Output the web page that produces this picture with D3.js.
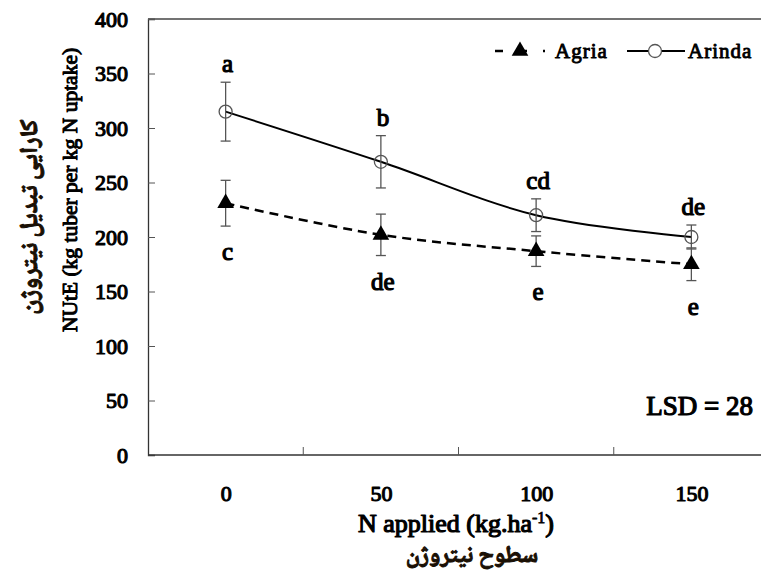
<!DOCTYPE html>
<html><head><meta charset="utf-8">
<script src="https://cdn.jsdelivr.net/npm/d3@7"></script>
<style>
html,body{margin:0;padding:0;background:#fff;}
</style></head>
<body>
<svg id="c" width="761" height="577"></svg>
<script>
const categories = ["0","50","100","150"];
const agria = [231, 202, 187, 175];
const agriaErr = [21, 19, 14, 15];
const arinda = [315, 269, 220, 200];
const arindaErr = [27, 24, 15, 11];
const agriaLetters = ["c","de","e","e"];
const arindaLetters = ["a","b","cd","de"];
const yTicks = [0,50,100,150,200,250,300,350,400];
const seriesNames = ["Agria","Arinda"];

const SERIF = "'Liberation Serif', 'Times New Roman', serif";
const FA = "'Noto Naskh Arabic', 'DejaVu Sans', sans-serif";

const svg = d3.select("#c");
const L = 148, R = 769, T = 19, B = 455;
const x = d3.scalePoint().domain(categories).range([L, R]).padding(0.5);
const y = d3.scaleLinear().domain([0, 400]).range([B, T]);

// faux-bold serif (no bold serif face is installed)
function st(sel, size, sw) {
  return sel.style("font-family", SERIF).style("font-weight", "normal").style("font-size", size + "px")
    .style("fill", "#000").style("stroke", "#000").style("stroke-width", (sw || 1) + "px")
    .style("stroke-linejoin", "round");
}
function fa(sel, size) {
  return sel.style("font-family", FA).style("font-weight", "bold").style("font-size", size + "px")
    .style("fill", "#1a1005").style("stroke", "#1a1005").style("stroke-width", "1px")
    .style("stroke-linejoin", "round");
}

// frame: top line
svg.append("line").attr("x1", L).attr("x2", 761).attr("y1", T).attr("y2", T)
  .attr("stroke", "#444").attr("stroke-width", 1.3);

// y axis
const ya = svg.append("g").attr("transform", `translate(${L},0)`)
  .call(d3.axisLeft(y).tickValues(yTicks).tickSize(-7).tickPadding(20).tickFormat(d3.format("d")));
ya.select(".domain").attr("stroke", "#333").attr("stroke-width", 1.3);
ya.selectAll(".tick line").attr("stroke", "#555");
st(ya.selectAll("text"), 22, 1.1);

// x axis: ticks between categories
const step = x.step();
const xa = svg.append("g").attr("transform", `translate(0,${B})`)
  .call(d3.axisBottom(x).tickSize(0).tickPadding(30));
xa.select(".domain").attr("d", `M${L},0H761`).attr("stroke", "#333").attr("stroke-width", 1.3);
st(xa.selectAll("text"), 22, 1.1);
categories.slice(1).forEach(c => {
  xa.append("line").attr("x1", x(c) - step / 2).attr("x2", x(c) - step / 2)
    .attr("y1", 0).attr("y2", -8).attr("stroke", "#555");
});

// lines
const lineGen = d3.line().x((d, i) => x(categories[i])).y(d => y(d)).curve(d3.curveCatmullRom.alpha(0.5));
svg.append("path").datum(agria).attr("d", lineGen).attr("fill", "none")
  .attr("stroke", "#000").attr("stroke-width", 2.5).attr("stroke-dasharray", "9,6");
svg.append("path").datum(arinda).attr("d", lineGen).attr("fill", "none")
  .attr("stroke", "#000").attr("stroke-width", 2);

// error bars
function errBars(vals, errs) {
  const g = svg.append("g").attr("stroke", "#555").attr("stroke-width", 1.3);
  vals.forEach((v, i) => {
    const cx = x(categories[i]);
    g.append("line").attr("x1", cx).attr("x2", cx).attr("y1", y(v - errs[i])).attr("y2", y(v + errs[i]));
    [v - errs[i], v + errs[i]].forEach(e => g.append("line")
      .attr("x1", cx - 5).attr("x2", cx + 5).attr("y1", y(e)).attr("y2", y(e)));
  });
}
errBars(arinda, arindaErr);
errBars(agria, agriaErr);

// markers
const tri = d3.symbol().type(d3.symbolTriangle).size(120);
agria.forEach((v, i) => svg.append("path").attr("d", tri)
  .attr("transform", `translate(${x(categories[i])},${y(v)})`).attr("fill", "#000"));
arinda.forEach((v, i) => svg.append("circle").attr("cx", x(categories[i])).attr("cy", y(v))
  .attr("r", 6.5).attr("fill", "none").attr("stroke", "#555").attr("stroke-width", 1.3));

// letters
arindaLetters.forEach((t, i) => st(svg.append("text").attr("x", x(categories[i]) + 2)
  .attr("y", y(arinda[i] + arindaErr[i]) - 10).attr("text-anchor", "middle"), 25, 1.2).text(t));
agriaLetters.forEach((t, i) => st(svg.append("text").attr("x", x(categories[i]) + 2)
  .attr("y", y(agria[i] - agriaErr[i]) + 34).attr("text-anchor", "middle"), 25, 1.2).text(t));

// legend
const lg = svg.append("g");
lg.append("line").attr("x1", 495).attr("x2", 545).attr("y1", 51).attr("y2", 51)
  .attr("stroke", "#000").attr("stroke-width", 2.5).attr("stroke-dasharray", "8,16");
lg.append("path").attr("d", tri).attr("transform", "translate(520,51)").attr("fill", "#000");
st(lg.append("text").attr("x", 555).attr("y", 58), 21, 0.9).style("letter-spacing", "1px").text(seriesNames[0]);
lg.append("line").attr("x1", 627).attr("x2", 685).attr("y1", 51).attr("y2", 51)
  .attr("stroke", "#000").attr("stroke-width", 2);
lg.append("circle").attr("cx", 655).attr("cy", 51).attr("r", 6.5).attr("fill", "#fff")
  .attr("stroke", "#555").attr("stroke-width", 1.3);
st(lg.append("text").attr("x", 688).attr("y", 58), 21, 0.9).style("letter-spacing", "1px").text(seriesNames[1]);

// LSD
st(svg.append("text").attr("x", 753).attr("y", 415).attr("text-anchor", "end"), 27, 1.2).text("LSD = 28");

// axis titles
const xt = st(svg.append("text").attr("x", 456).attr("y", 532).attr("text-anchor", "middle"), 26, 1.2);
xt.append("tspan").text("N applied (kg.ha");
xt.append("tspan").attr("dy", -9).style("font-size", "16px").style("stroke-width", "0.8px").text("-1");
xt.append("tspan").attr("dy", 9).text(")");
fa(svg.append("text").attr("x", 472).attr("y", 562).attr("text-anchor", "middle"), 23.5)
  .text("سطوح نیتروژن");

st(svg.append("text").attr("transform", "translate(77,190) rotate(-90)").attr("text-anchor", "middle"), 21.5, 1)
  .text("NUtE (kg tuber per kg N uptake)");
fa(svg.append("text").attr("transform", "translate(37,217) rotate(-90)").attr("text-anchor", "middle"), 25)
  .text("کارایی تبدیل نیتروژن");
</script>
</body></html>
